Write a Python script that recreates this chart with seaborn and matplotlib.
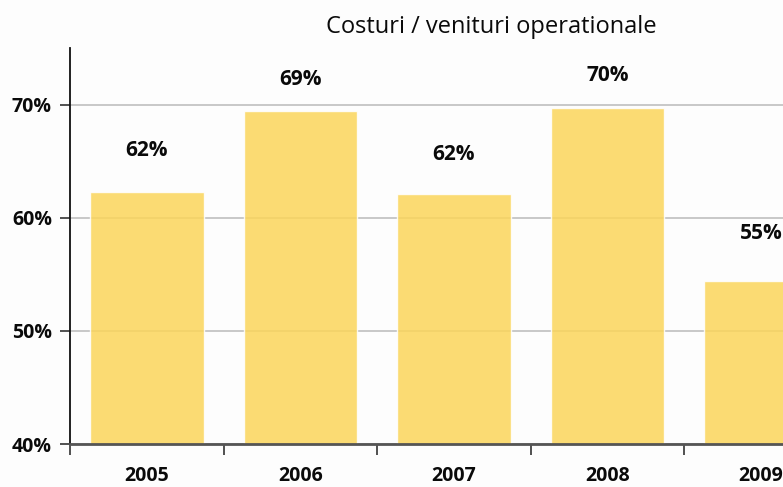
import matplotlib
matplotlib.use("Agg")
import matplotlib.pyplot as plt
import seaborn as sns
import pandas as pd

years = ["2005", "2006", "2007", "2008", "2009"]
ratio = [62.3, 69.4, 62.1, 69.7, 54.4]
ratio_labels = ["62%", "69%", "62%", "70%", "55%"]
y_ticks = [40, 50, 60, 70]
y_tick_labels = ["40%", "50%", "60%", "70%"]

df = pd.DataFrame({"an": years, "raport": ratio})

sns.set_theme(style="white")
plt.rcParams["font.family"] = ["Open Sans", "DejaVu Sans"]

fig = plt.figure(figsize=(7.83, 4.87), dpi=100, facecolor="#fdfdfd")
ax = fig.add_axes([70 / 783, 43 / 487, 713 / 783, 396 / 487])
ax.set_facecolor("#fdfdfd")

sns.barplot(data=df, x="an", y="raport", color="#fbd55b", saturation=1,
            width=0.74, alpha=0.85, ax=ax, zorder=2)

ax.set_ylim(40, 75)
ax.set_xlim(-0.5, 4.143)
ax.set_yticks(y_ticks)
ax.set_yticklabels(y_tick_labels, fontsize=14, fontweight="bold", color="#0a0a0a")
ax.yaxis.grid(True, color="#c4c4c4", lw=1.3, zorder=1)
ax.set_axisbelow(True)
ax.set_xlabel("")
ax.set_ylabel("")

# year labels without ticks, ticks on category boundaries
ax.tick_params(axis="x", which="major", length=0, pad=16, labelsize=14,
               labelcolor="#0a0a0a")
for t in ax.get_xticklabels():
    t.set_fontweight("bold")
ax.set_xticks([-0.5, 0.5, 1.5, 2.5, 3.5], minor=True)
ax.tick_params(axis="x", which="minor", bottom=True, length=8, width=1.2,
               color="#333333", direction="out")
ax.tick_params(axis="y", which="major", left=True, length=7, width=1.2,
               color="#333333", direction="out", pad=6)

for side in ["top", "right"]:
    ax.spines[side].set_visible(False)
ax.spines["left"].set_color("#111111")
ax.spines["left"].set_linewidth(1.3)
ax.spines["bottom"].set_color("#555555")
ax.spines["bottom"].set_linewidth(2)

# value labels sit well above each bar (offsets as in the original)
label_offsets = [3.6, 2.8, 3.5, 2.9, 4.2]
for i, (v, lab) in enumerate(zip(ratio, ratio_labels)):
    ax.text(i, v + label_offsets[i], lab, ha="center", va="center",
            fontsize=15, fontweight="bold", color="#0a0a0a")

fig.text(491 / 783, 1 - 27 / 487, "Costuri / venituri operationale",
         ha="center", va="center", fontsize=17, color="#0a0a0a")

fig.savefig("out.png", dpi=100, facecolor=fig.get_facecolor())
